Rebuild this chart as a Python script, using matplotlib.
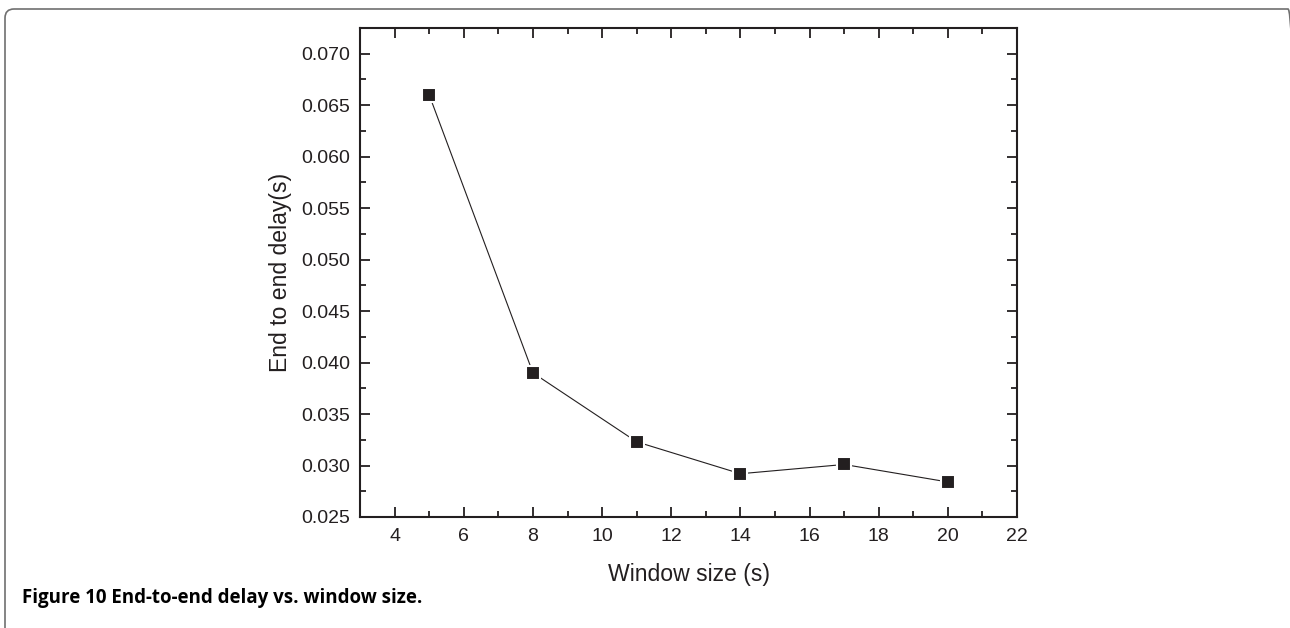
import numpy as np
import matplotlib
matplotlib.use('Agg')
import matplotlib.pyplot as plt
from matplotlib.patches import FancyBboxPatch
from matplotlib.ticker import MultipleLocator

# data
window_size = [5, 8, 11, 14, 17, 20]
delay = [0.0660, 0.0390, 0.0323, 0.0292, 0.0301, 0.0284]

x_ticks = [4, 6, 8, 10, 12, 14, 16, 18, 20, 22]
y_ticks = [0.025, 0.030, 0.035, 0.040, 0.045, 0.050, 0.055, 0.060, 0.065, 0.070]

plt.rcParams['font.family'] = ['Liberation Sans', 'DejaVu Sans']

fig = plt.figure(figsize=(12.9, 6.28), dpi=100)
ax = fig.add_axes([0.2791, 0.1768, 0.5093, 0.7786])

ink = '#231f20'
ax.plot(window_size, delay, color=ink, lw=0.8, marker='s', markersize=9.4,
        markerfacecolor=ink, markeredgecolor='white', markeredgewidth=1.5,
        zorder=3)

ax.set_xlim(3, 22)
ax.set_ylim(0.025, 0.0725)
ax.set_xticks(x_ticks)
ax.set_yticks(y_ticks)
ax.set_yticklabels(['%.3f' % v for v in y_ticks])
ax.xaxis.set_minor_locator(MultipleLocator(1))
ax.yaxis.set_minor_locator(MultipleLocator(0.0025))

ax.tick_params(which='both', direction='in', top=True, right=True,
               color=ink, width=1.3, labelsize=14, labelcolor=ink)
ax.tick_params(which='major', length=7)
ax.tick_params(which='minor', length=4)
ax.tick_params(axis='y', pad=7)
ax.tick_params(axis='x', pad=8)
for s in ax.spines.values():
    s.set_linewidth(1.5)
    s.set_color(ink)

ax.set_xlabel('Window size (s)', fontsize=16.6, color=ink)
ax.set_ylabel('End to end delay(s)', fontsize=16.6, color=ink)
ax.xaxis.set_label_coords(0.5, -0.095)
ax.yaxis.set_label_coords(-0.1035, 0.5)

# caption
fig.text(22 / 1290, 1 - 603 / 628, 'Figure 10 End-to-end delay vs. window size.',
         fontsize=13.5, fontweight='bold', family=['Open Sans', 'DejaVu Sans'],
         va='baseline', color='black')

# rounded frame around the figure (open at bottom / right edge)
frame = FancyBboxPatch((5, -30), 1292, 649, boxstyle='round,pad=0,rounding_size=9',
                       transform=None, fill=False, edgecolor='#707070', lw=1.2)
fig.patches.append(frame)

fig.savefig('out.png', dpi=100)
